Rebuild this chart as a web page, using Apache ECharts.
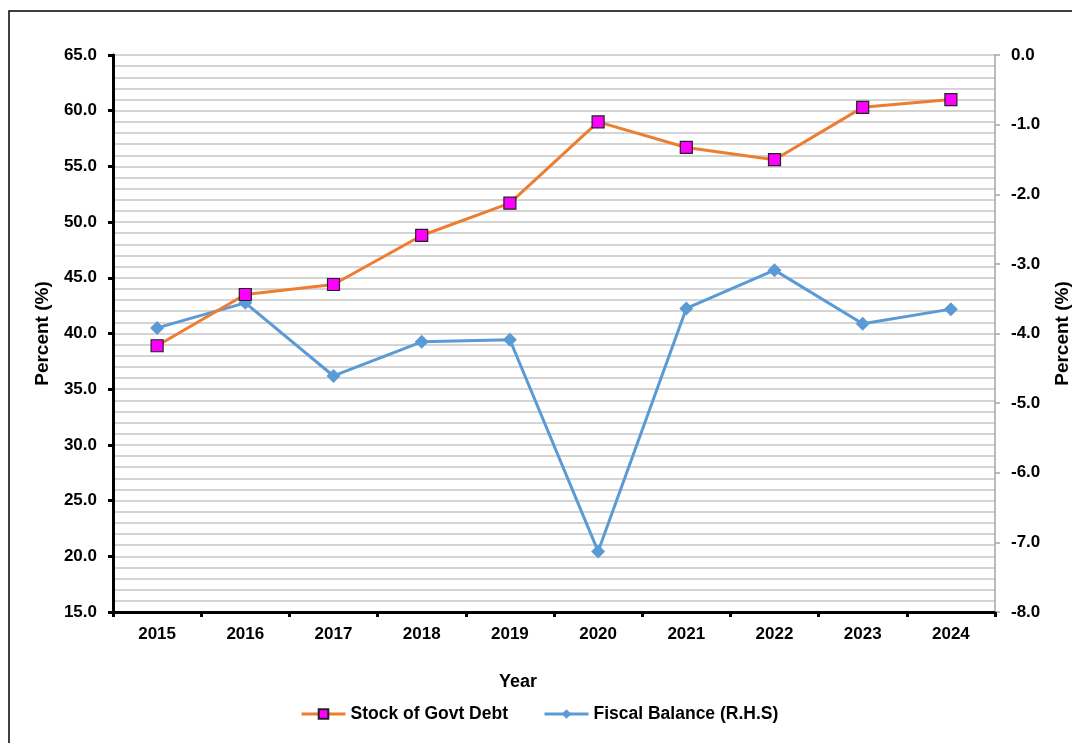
<!DOCTYPE html>
<html>
<head>
<meta charset="utf-8">
<script src="https://cdn.jsdelivr.net/npm/echarts@6/dist/echarts.min.js"></script>
<style>
  html, body {margin: 0; padding: 0; background: #fff;}
  #chart {width: 1072px; height: 743px;}
</style>
</head>
<body>
<div id="chart"></div>
<script>
const years = ['2015', '2016', '2017', '2018', '2019', '2020', '2021', '2022', '2023', '2024']
const govtDebt = [38.9, 43.5, 44.4, 48.8, 51.7, 59.0, 56.7, 55.6, 60.3, 61.0]
const fiscalBalance = [-3.92, -3.56, -4.61, -4.12, -4.09, -7.13, -3.64, -3.09, -3.86, -3.65]

const font = 'Liberation Sans, Arial, sans-serif'
const labelStyle = {fontFamily: font, fontWeight: 'bold', fontSize: 17, color: '#000'}
const nameStyle = {fontFamily: font, fontWeight: 'bold', fontSize: 19, color: '#000'}

const chart = echarts.init(document.getElementById('chart'))
const option = {
  backgroundColor: '#fff',
  animation: false,
  grid: {left: 113, top: 55, right: 77, bottom: 131, outerBoundsMode: 'none'},
  graphic: [
    {
      type: 'rect',
      shape: {x: 9, y: 11, width: 1100, height: 800},
      style: {fill: 'none', stroke: '#000', lineWidth: 1.5},
      z: -1
    },
    {
      type: 'text',
      x: 518, y: 682,
      style: {text: 'Year', font: 'bold 18px ' + font, fill: '#000', align: 'center', verticalAlign: 'middle'}
    }
  ],
  legend: {
    top: 700,
    left: 295,
    itemWidth: 44,
    itemHeight: 12,
    itemGap: 35,
    lineStyle: {width: 3},
    textStyle: {fontFamily: font, fontWeight: 'bold', fontSize: 17.5, color: '#000'},
    data: ['Stock of Govt Debt', 'Fiscal Balance (R.H.S)']
  },
  xAxis: {
    type: 'category',
    data: years,
    boundaryGap: true,
    axisLine: {onZero: false, lineStyle: {color: '#000', width: 3}},
    axisTick: {show: true, length: 5, lineStyle: {color: '#000', width: 3}},
    axisLabel: Object.assign({margin: 14}, labelStyle)
  },
  yAxis: [
    {
      type: 'value',
      min: 15, max: 65, interval: 5,
      name: 'Percent (%)',
      nameLocation: 'middle',
      nameRotate: 90,
      nameGap: 61,
      nameTextStyle: nameStyle,
      axisLine: {show: true, lineStyle: {color: '#000', width: 3}},
      axisTick: {show: true, length: 5, lineStyle: {color: '#000', width: 3}},
      axisLabel: Object.assign({margin: 16, formatter: v => v.toFixed(1)}, labelStyle),
      splitLine: {show: true, lineStyle: {color: '#c6c6c6', width: 1.5}},
      minorTick: {show: false, splitNumber: 5},
      minorSplitLine: {show: true, lineStyle: {color: '#c6c6c6', width: 1.5}}
    },
    {
      type: 'value',
      position: 'right',
      min: -8, max: 0, interval: 1,
      name: 'Percent (%)',
      nameLocation: 'middle',
      nameRotate: 90,
      nameGap: 58,
      nameTextStyle: nameStyle,
      axisLine: {show: true, lineStyle: {color: '#a6a6a6', width: 1.5}},
      axisTick: {show: true, length: 5, lineStyle: {color: '#a6a6a6', width: 1.5}},
      axisLabel: Object.assign({margin: 16, formatter: v => v.toFixed(1)}, labelStyle),
      splitLine: {show: false}
    }
  ],
  series: [
    {
      name: 'Stock of Govt Debt',
      type: 'line',
      yAxisIndex: 0,
      data: govtDebt,
      symbol: 'rect',
      symbolSize: 12,
      lineStyle: {color: '#ED7D31', width: 3},
      itemStyle: {color: '#FF00FF', borderColor: '#222', borderWidth: 1.2},
      z: 3
    },
    {
      name: 'Fiscal Balance (R.H.S)',
      type: 'line',
      yAxisIndex: 1,
      data: fiscalBalance,
      symbol: 'diamond',
      symbolSize: 14,
      lineStyle: {color: '#5B9BD5', width: 3},
      itemStyle: {color: '#5B9BD5', borderWidth: 0},
      z: 2
    }
  ]
}
option && chart.setOption(option)
</script>
</body>
</html>
